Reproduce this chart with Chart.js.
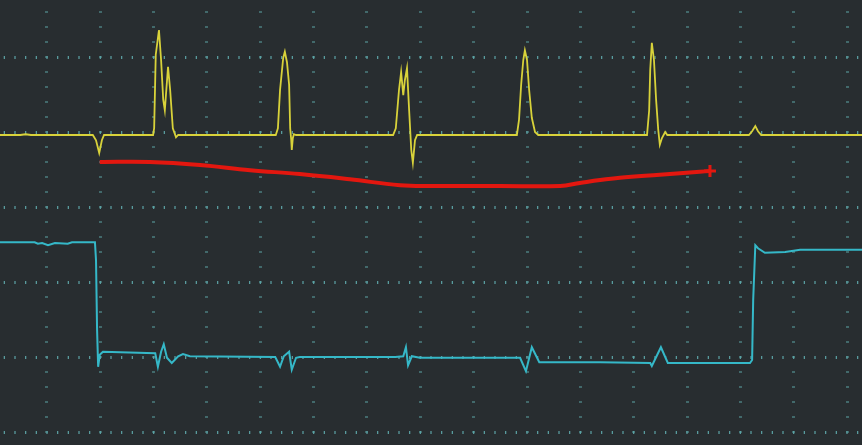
<!DOCTYPE html>
<html>
<head>
<meta charset="utf-8">
<script src="https://cdn.jsdelivr.net/npm/chart.js@4.4.1/dist/chart.umd.min.js"></script>
<style>
  html, body { margin: 0; padding: 0; background: #282d30; }
  #wrap { position: relative; width: 862px; height: 445px; }
  canvas { background: #282d30; }
</style>
</head>
<body>
<div id="wrap"><canvas id="c"></canvas></div>
<script>
// Time axis in divisions, voltage axis in divisions
const xTicks = [0, 1, 2, 3, 4, 5, 6, 7, 8, 9, 10, 11, 12, 13, 14, 15];
const yTicks = [-3, -2, -1, 0, 1, 2];

// CH1 (yellow) [time, value]
const ch1 = [
  [-0.88,0.96],[-0.5,0.96],[-0.4,0.97],[-0.3,0.96],[0.86,0.96],[0.92,0.89],[0.98,0.72],[1.03,0.89],[1.07,0.96],
  [1.99,0.96],[2.01,1.05],[2.04,2.03],[2.10,2.36],[2.14,1.96],[2.18,1.43],[2.21,1.29],[2.27,1.87],[2.31,1.56],[2.36,1.05],[2.42,0.93],[2.46,0.96],
  [4.29,0.96],[4.33,1.05],[4.37,1.56],[4.43,1.99],[4.46,2.07],[4.50,1.93],[4.54,1.63],[4.56,1.05],[4.58,0.89],[4.59,0.76],[4.61,0.92],[4.63,0.97],[4.67,0.96],
  [6.49,0.96],[6.54,1.05],[6.60,1.56],[6.64,1.80],[6.68,1.49],[6.71,1.69],[6.75,1.85],[6.79,1.29],[6.83,0.76],[6.86,0.59],[6.90,0.89],[6.94,0.96],
  [8.81,0.96],[8.85,1.16],[8.89,1.63],[8.93,1.96],[8.96,2.09],[9.00,1.96],[9.04,1.56],[9.09,1.19],[9.15,1.00],[9.21,0.96],
  [11.25,0.96],[11.29,1.29],[11.31,1.83],[11.34,2.19],[11.38,1.96],[11.42,1.43],[11.46,1.03],[11.49,0.83],[11.53,0.92],[11.59,1.00],[11.63,0.96],
  [13.16,0.96],[13.22,1.01],[13.28,1.08],[13.33,1.01],[13.39,0.96],[15.28,0.96]
];

// CH2 (cyan) [time, value]
const ch2 = [
  [-0.88,-0.47],[-0.23,-0.47],[-0.17,-0.49],[-0.09,-0.48],[0.02,-0.51],[0.15,-0.48],[0.39,-0.49],[0.47,-0.47],[0.90,-0.47],
  [0.92,-0.71],[0.94,-1.64],[0.96,-2.13],[0.99,-1.97],[1.05,-1.93],[2.03,-1.95],[2.08,-2.13],[2.14,-1.93],[2.19,-1.83],[2.25,-2.01],
  [2.34,-2.08],[2.46,-1.99],[2.55,-1.96],[2.68,-1.99],[4.28,-2.00],[4.37,-2.13],[4.44,-1.99],[4.54,-1.93],[4.59,-2.17],[4.67,-2.01],
  [4.74,-2.00],[6.53,-2.00],[6.68,-1.99],[6.73,-1.87],[6.77,-2.11],[6.84,-1.99],[6.99,-2.01],[8.87,-2.01],[8.98,-2.19],[9.09,-1.87],
  [9.23,-2.07],[10.37,-2.07],[11.31,-2.08],[11.34,-2.12],[11.51,-1.87],[11.64,-2.08],[13.18,-2.08],[13.22,-2.04],[13.24,-1.24],
  [13.28,-0.51],[13.33,-0.55],[13.46,-0.61],[13.84,-0.60],[14.12,-0.57],[15.28,-0.57]
];

// Red annotation trace [time, value]
const redTrace = [
  [0.99,0.60],[1.93,0.60],[2.87,0.56],[3.81,0.49],[4.74,0.44],[5.68,0.37],[6.62,0.29],[7.24,0.28],
  [8.49,0.28],[9.62,0.28],[9.99,0.32],[10.37,0.36],[10.74,0.39],[11.49,0.43],[12.24,0.47],[12.43,0.48]
];

const toXY = arr => arr.map(p => ({ x: p[0], y: p[1] }));
const gridColor = 'rgba(95,170,172,0.95)';

new Chart(document.getElementById('c'), {
  type: 'line',
  data: {
    datasets: [
      {
        label: 'CH2',
        data: toXY(ch2),
        borderColor: '#35b8c8',
        borderWidth: 2,
        pointRadius: 0,
        tension: 0
      },
      {
        label: 'CH1',
        data: toXY(ch1),
        borderColor: '#d8d23a',
        borderWidth: 1.8,
        pointRadius: 0,
        tension: 0
      },
      {
        label: 'Marker',
        data: toXY(redTrace),
        borderColor: '#e3170f',
        borderWidth: 4,
        tension: 0.4,
        pointStyle: 'cross',
        pointRadius: ctx => ctx.dataIndex === redTrace.length - 1 ? 6 : 0,
        pointBorderColor: '#e3170f',
        pointBorderWidth: 3,
        pointHoverRadius: 0
      }
    ]
  },
  options: {
    responsive: true,
    maintainAspectRatio: false,
    animation: false,
    events: [],
    layout: { padding: 0, autoPadding: false },
    plugins: { legend: { display: false }, tooltip: { enabled: false } },
    scales: {
      x: {
        type: 'linear',
        min: -0.88,
        max: 15.28,
        afterBuildTicks: s => { s.ticks = xTicks.map(v => ({ value: v })); },
        ticks: { display: false },
        grid: { color: gridColor, lineWidth: 3, drawTicks: false },
        border: { display: false, dash: [1.2, 13.8], dashOffset: 3.6 }
      },
      y: {
        type: 'linear',
        min: -3.1733,
        max: 2.76,
        afterBuildTicks: s => { s.ticks = yTicks.map(v => ({ value: v })); },
        ticks: { display: false },
        grid: { color: gridColor, lineWidth: 3, drawTicks: false },
        border: { display: false, dash: [1.2, 9.4667], dashOffset: 6.93 }
      }
    }
  }
});
</script>
</body>
</html>
